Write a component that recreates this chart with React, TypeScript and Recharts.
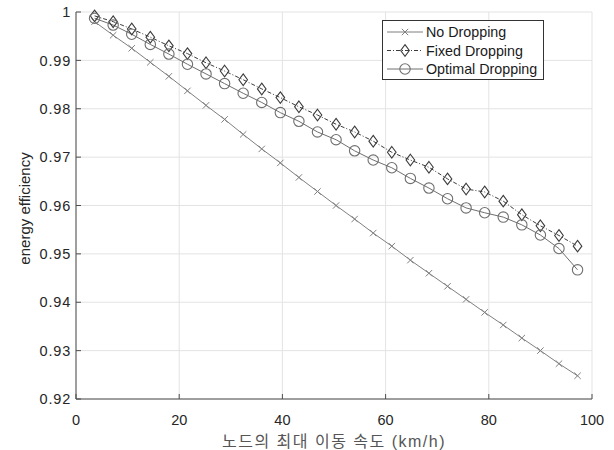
import React from 'react';
import { LineChart, Line, XAxis, YAxis, CartesianGrid, Legend } from 'recharts';

// speed in km/h (1..27 m/s)
const speeds = [3.6, 7.2, 10.8, 14.4, 18, 21.6, 25.2, 28.8, 32.4, 36, 39.6, 43.2, 46.8, 50.4, 54, 57.6, 61.2, 64.8, 68.4, 72, 75.6, 79.2, 82.8, 86.4, 90, 93.6, 97.2];

const noDropping = [0.998, 0.9952, 0.9925, 0.9896, 0.9867, 0.9837, 0.9807, 0.9778, 0.9747, 0.9717, 0.9688, 0.9658, 0.9629, 0.96, 0.9572, 0.9543, 0.9516, 0.9487, 0.946, 0.9433, 0.9406, 0.9379, 0.9353, 0.9326, 0.93, 0.9273, 0.9248];
const fixedDropping = [0.9992, 0.998, 0.9965, 0.9948, 0.993, 0.9914, 0.9895, 0.9878, 0.986, 0.9841, 0.9823, 0.9804, 0.9787, 0.9768, 0.9752, 0.9733, 0.971, 0.9694, 0.9679, 0.9655, 0.9634, 0.9628, 0.9609, 0.9581, 0.9558, 0.9538, 0.9516];
const optimalDropping = [0.9987, 0.9973, 0.9954, 0.9933, 0.9913, 0.9892, 0.9872, 0.9852, 0.9832, 0.9813, 0.9792, 0.9774, 0.9752, 0.9736, 0.9713, 0.9694, 0.9678, 0.9656, 0.9636, 0.9614, 0.9595, 0.9585, 0.9576, 0.956, 0.9539, 0.9511, 0.9467];

const xTicks = [0, 20, 40, 60, 80, 100];
const yTicks = [0.92, 0.93, 0.94, 0.95, 0.96, 0.97, 0.98, 0.99, 1];

const data = speeds.map((s, i) => ({
  speed: s,
  none: noDropping[i],
  fixed: fixedDropping[i],
  optimal: optimalDropping[i],
}));

const FONT = '"Liberation Sans", Arial, "Noto Sans CJK KR", sans-serif';
const AXIS = '#4d4d4d';
const C_NONE = '#7f7f7f';
const C_FIXED = '#3c3c3c';
const C_OPT = '#6f6f6f';

const CrossDot = (props: any) => {
  const { cx, cy } = props;
  if (cx == null || cy == null) return null;
  const r = 3.2;
  return (
    <g stroke={C_NONE} strokeWidth={1}>
      <line x1={cx - r} y1={cy - r} x2={cx + r} y2={cy + r} />
      <line x1={cx - r} y1={cy + r} x2={cx + r} y2={cy - r} />
    </g>
  );
};

const DiamondDot = (props: any) => {
  const { cx, cy } = props;
  if (cx == null || cy == null) return null;
  return (
    <polygon
      points={`${cx},${cy - 5.8} ${cx + 4.3},${cy} ${cx},${cy + 5.8} ${cx - 4.3},${cy}`}
      fill="none"
      stroke={C_FIXED}
      strokeWidth={1.1}
    />
  );
};

const CircleDot = (props: any) => {
  const { cx, cy } = props;
  if (cx == null || cy == null) return null;
  return <circle cx={cx} cy={cy} r={5.2} fill="none" stroke={C_OPT} strokeWidth={1.1} />;
};

const legendItems = [
  { label: 'No Dropping', color: C_NONE, dash: undefined, Dot: CrossDot },
  { label: 'Fixed Dropping', color: C_FIXED, dash: '4 2 1 2', Dot: DiamondDot },
  { label: 'Optimal Dropping', color: C_OPT, dash: undefined, Dot: CircleDot },
];

const LegendBox = () => (
  <svg width={162} height={60} style={{ display: 'block' }}>
    <rect x={0.5} y={0.5} width={161} height={59} fill="#fff" stroke="#333" strokeWidth={1} />
    {legendItems.map((it, i) => {
      const y = 12 + i * 18.5;
      return (
        <g key={it.label}>
          <line x1={5} x2={41} y1={y} y2={y} stroke={it.color} strokeDasharray={it.dash} />
          <it.Dot cx={23} cy={y} />
          <text x={44} y={y + 5} fontSize={14.3} fill="#1a1a1a" fontFamily={FONT}>
            {it.label}
          </text>
        </g>
      );
    })}
  </svg>
);

export default function App() {
  return (
    <div style={{ position: 'absolute', left: 0, top: 0, width: 614, height: 450, background: '#fff' }}>
      <LineChart width={614} height={450} data={data} margin={{ top: 12, right: 22, bottom: 0, left: 0 }}>
        <CartesianGrid stroke="#e3e3e3" strokeWidth={1} />
        <XAxis
          dataKey="speed"
          type="number"
          domain={[0, 100]}
          ticks={xTicks}
          height={51}
          stroke={AXIS}
          tickSize={-5}
          tickMargin={21}
          tick={{ fontSize: 14.5, fill: '#262626', fontFamily: FONT }}
          label={{
            value: '노드의 최대 이동 속도 (km/h)',
            position: 'insideBottom',
            offset: 3,
            fontSize: 16,
            letterSpacing: 1.5,
            fill: '#555',
            fontFamily: FONT,
          }}
        />
        <YAxis
          type="number"
          domain={[0.92, 1]}
          ticks={yTicks}
          width={76}
          stroke={AXIS}
          tickSize={-5}
          tickMargin={10}
          tickFormatter={(v: number) => (v === 1 ? '1' : v.toFixed(2))}
          tick={{ fontSize: 14.5, fill: '#262626', fontFamily: FONT, letterSpacing: 0.8 }}
          label={{
            value: 'energy efficiency',
            angle: -90,
            position: 'insideLeft',
            offset: 25,
            dy: 3,
            style: { textAnchor: 'middle' },
            fontSize: 15,
            fill: '#262626',
            fontFamily: FONT,
          }}
        />
        <Legend
          layout="horizontal"
          verticalAlign="middle"
          align="center"
          wrapperStyle={{ top: 20, left: 382, width: 162, height: 60 }}
          content={() => <LegendBox />}
        />
        <Line
          dataKey="none"
          stroke={C_NONE}
          strokeWidth={1}
          dot={<CrossDot />}
          activeDot={false}
          isAnimationActive={false}
        />
        <Line
          dataKey="fixed"
          stroke={C_FIXED}
          strokeWidth={1}
          strokeDasharray="4 2 1 2"
          dot={<DiamondDot />}
          activeDot={false}
          isAnimationActive={false}
        />
        <Line
          dataKey="optimal"
          stroke={C_OPT}
          strokeWidth={1}
          dot={<CircleDot />}
          activeDot={false}
          isAnimationActive={false}
        />
      </LineChart>
    </div>
  );
}
